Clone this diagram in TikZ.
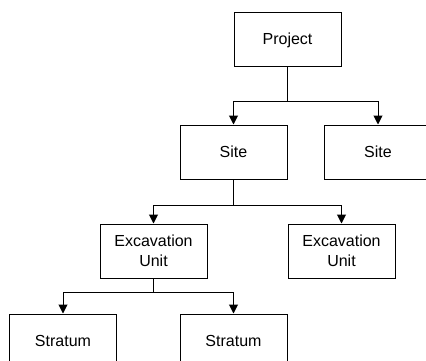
\documentclass[tikz,border=0pt]{standalone}
\usepackage{fontspec}
\setmainfont{Liberation Sans}
\usetikzlibrary{arrows.meta}
\tikzset{
    box/.style={draw,line width=1pt,minimum width=107pt,minimum height=54pt,inner sep=2pt,align=center,font=\fontsize{16}{20}\selectfont},
    link/.style={line width=1pt},
    arrowlink/.style={link,-{Triangle[length=9pt,width=9pt]}}
}
\begin{document}
\begin{tikzpicture}[x=1pt,y=-1pt]
                \clip (0,0) rectangle (426,361);
                \node[box] (project) at (287.5, 40) {Project};
                \node[box] (siteA) at (233.5, 152) {Site};
                \node[box] (siteB) at (378, 152) {Site};
                \node[box] (unitA) at (153.5, 251) {Excavation\\Unit};
                \node[box] (unitB) at (341.5, 251) {Excavation\\Unit};
                \node[box] (stratumA) at (63, 341) {Stratum};
                \node[box] (stratumB) at (233.5, 341) {Stratum};

                \coordinate (J1) at (287.5, 102);
                \coordinate (J2) at (233.5, 205);
                \coordinate (J3) at (153.5, 292);

                \draw[link] (project) -- (J1);
                \draw[arrowlink] (J1) -| (siteA);
                \draw[arrowlink] (J1) -| (siteB);
                \draw[link] (siteA) -- (J2);
                \draw[arrowlink] (J2) -| (unitA);
                \draw[arrowlink] (J2) -| (unitB);
                \draw[link] (unitA) -- (J3);
                \draw[arrowlink] (J3) -| (stratumA);
                \draw[arrowlink] (J3) -| (stratumB);
            \end{tikzpicture}
\end{document}
